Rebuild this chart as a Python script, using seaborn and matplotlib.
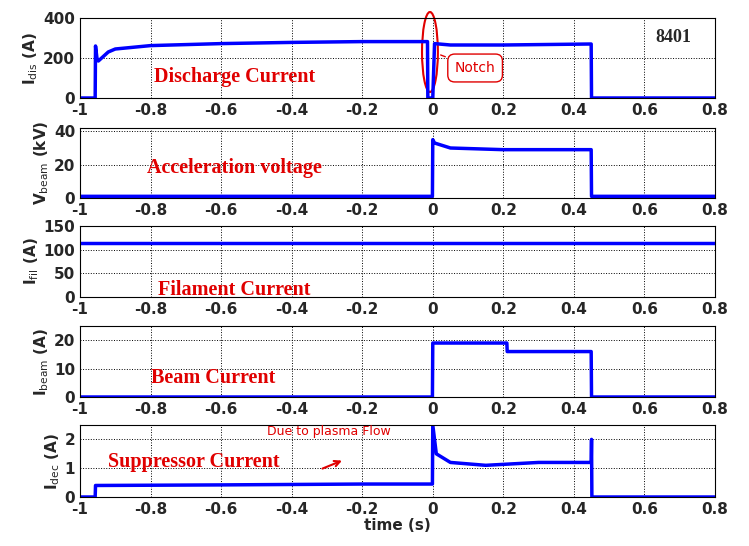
import matplotlib
matplotlib.use("Agg")
import matplotlib.pyplot as plt
import seaborn as sns
from matplotlib.patches import Ellipse

sns.set_style("white")
plt.rcParams['font.family'] = ['DejaVu Sans']

t_dis = [-1, -0.957, -0.956, -0.952, -0.948, -0.92, -0.9, -0.8, -0.6, -0.4, -0.2, -0.015, -0.014, -0.003, 0.0, 0.005, 0.05, 0.2, 0.449, 0.45, 0.8]
v_dis = [0, 0, 260, 200, 185, 230, 245, 262, 272, 278, 282, 282, 0, 0, 0, 272, 265, 265, 270, 0, 0]
t_vb = [-1, -0.001, 0.0, 0.005, 0.05, 0.2, 0.449, 0.45, 0.8]
v_vb = [1, 1, 35, 33, 30, 29, 29, 1, 1]
t_fil = [-1, 0.8]
v_fil = [115, 115]
t_ib = [-1, -0.001, 0.0, 0.21, 0.211, 0.449, 0.45, 0.8]
v_ib = [0, 0, 19, 19, 16, 16, 0, 0]
t_dec = [-1, -0.957, -0.956, -0.6, -0.2, -0.001, 0.0, 0.01, 0.05, 0.15, 0.3, 0.449, 0.45, 0.451, 0.8]
v_dec = [0, 0, 0.4, 0.42, 0.45, 0.45, 2.5, 1.5, 1.2, 1.1, 1.2, 1.2, 2.0, 0, 0]

panels = [
    (t_dis, v_dis, r"I$_{\rm dis}$ (A)", (0, 400), [0, 200, 400], "Discharge Current", (-0.79, 80)),
    (t_vb, v_vb, r"V$_{\rm beam}$ (kV)", (0, 42), [0, 20, 40], "Acceleration voltage", (-0.81, 15)),
    (t_fil, v_fil, r"I$_{\rm fil}$ (A)", (0, 150), [0, 50, 100, 150], "Filament Current", (-0.78, 5)),
    (t_ib, v_ib, r"I$_{\rm beam}$ (A)", (0, 25), [0, 10, 20], "Beam Current", (-0.8, 5)),
    (t_dec, v_dec, r"I$_{\rm dec}$ (A)", (0, 2.5), [0, 1, 2], "Suppressor Current", (-0.92, 1.05)),
]
tops = [18, 128, 226, 326, 425]
bots = [98, 198, 297, 397, 497]
W, H = 749, 546
fig = plt.figure(figsize=(7.49, 5.46), dpi=100)
xt = [-1, -0.8, -0.6, -0.4, -0.2, 0, 0.2, 0.4, 0.6, 0.8]
for i, (t, v, yl, ylim, yt, lab, pos) in enumerate(panels):
    ax = fig.add_axes([80/W, 1 - bots[i]/H, (715-80)/W, (bots[i]-tops[i])/H])
    sns.lineplot(x=t, y=v, ax=ax, color="#0000ff", lw=2.5)
    ax.set_xlim(-1, 0.8); ax.set_ylim(*ylim)
    ax.set_xticks(xt); ax.set_xticklabels([f"{x:g}" for x in xt])
    ax.set_yticks(yt)
    ax.grid(True, ls=":", color="black", lw=0.7)
    for s in ax.spines.values():
        s.set_color("black"); s.set_linewidth(0.8)
    ax.tick_params(labelsize=11, direction="in", length=3)
    for lbl in ax.get_xticklabels() + ax.get_yticklabels():
        lbl.set_fontweight("bold")
    ax.set_ylabel(yl, fontsize=11, fontweight="bold", labelpad=2)
    ax.text(pos[0], pos[1], lab, color="#e00000", fontsize=14.5, fontweight="bold", family="Liberation Serif")
    if i == 0:
        ax.text(0.63, 280, "8401", fontsize=13, fontweight="bold", family="Liberation Serif")
        ax.add_patch(Ellipse((-0.008, 230), 0.045, 400, fill=False, ec="#e00000", lw=1.5, clip_on=False))
        ax.annotate("Notch", xy=(0.015, 220), xytext=(0.12, 150), color="#e00000", fontsize=10,
                    ha="center", va="center",
                    bbox=dict(boxstyle="round,pad=0.5", fc="white", ec="#e00000"),
                    arrowprops=dict(arrowstyle="-", color="#e00000"))
    if i == 4:
        ax.set_xlabel("time (s)", fontsize=11, fontweight="bold", labelpad=1)
        ax.text(-0.47, 2.15, "Due to plasma Flow", color="#e00000", fontsize=9)
        ax.annotate("", xy=(-0.25, 1.3), xytext=(-0.32, 0.95),
                    arrowprops=dict(arrowstyle="->", color="#e00000", lw=1.5))
fig.savefig("out.png", dpi=100)
